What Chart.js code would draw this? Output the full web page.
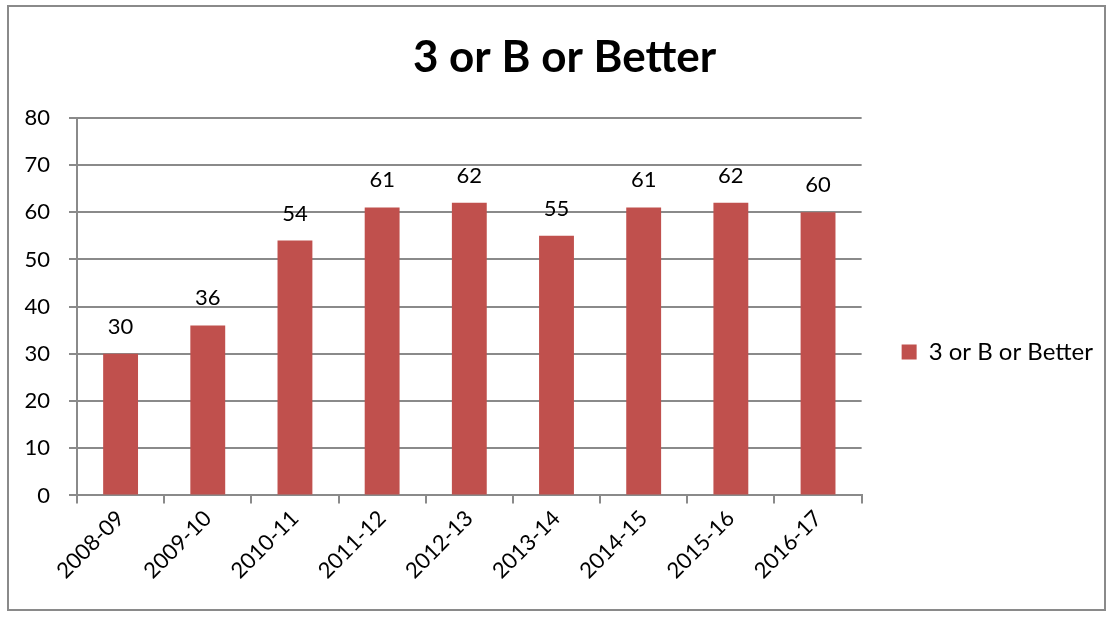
<!DOCTYPE html>
<html>
<head>
<meta charset="utf-8">
<script src="https://cdn.jsdelivr.net/npm/chart.js@4.4.0/dist/chart.umd.min.js"></script>
<style>
  html, body { margin: 0; padding: 0; background: #fff; }
  #wrap { position: relative; width: 1111px; height: 617px; }
  #frame { position: absolute; left: 7px; top: 5px; width: 1099px; height: 606px; border: 2px solid #8a8a8a; box-sizing: border-box; pointer-events: none; }
  canvas { position: absolute; left: 0; top: 0; }
</style>
</head>
<body>
<div id="wrap">
  <canvas id="c" width="1111" height="617"></canvas>
  <div id="frame"></div>
</div>
<script>
const categories = ["2008-09", "2009-10", "2010-11", "2011-12", "2012-13", "2013-14", "2014-15", "2015-16", "2016-17"];
const seriesName = "3 or B or Better";
const values = [30, 36, 54, 61, 62, 55, 61, 62, 60];
const yTicks = [0, 10, 20, 30, 40, 50, 60, 70, 80];
const titleText = "3 or B or Better";

const FONT = "Lato, 'Open Sans', sans-serif";
const GRID = "#8a8a8a";
const BAR = "#c0504d";

const valueLabels = {
  id: 'valueLabels',
  afterDatasetsDraw(chart) {
    const ctx = chart.ctx;
    const meta = chart.getDatasetMeta(0);
    ctx.save();
    ctx.font = "22px " + FONT;
    ctx.fillStyle = "#000";
    ctx.textAlign = "center";
    ctx.textBaseline = "alphabetic";
    meta.data.forEach((bar, i) => {
      ctx.fillText(String(chart.data.datasets[0].data[i]), bar.x, bar.y - 20);
    });
    ctx.restore();
  }
};

// shift the title box so its centre sits where the reference title is
const titleShift = {
  id: 'titleShift',
  afterLayout(chart) {
    if (chart.titleBlock) chart.titleBlock.left += 8;
  }
};

new Chart(document.getElementById('c'), {
  type: 'bar',
  data: {
    labels: categories,
    datasets: [{
      label: seriesName,
      data: values,
      backgroundColor: BAR,
      borderWidth: 0,
      barPercentage: 0.4,
      categoryPercentage: 1.0
    }]
  },
  options: {
    responsive: false,
    animation: false,
    devicePixelRatio: 1,
    layout: { padding: { left: 18, right: 8, top: 0, bottom: 31 } },
    plugins: {
      title: {
        display: true,
        text: titleText,
        color: "#000",
        font: { family: FONT, size: 44, weight: 'bold' },
        padding: { top: 31, bottom: 34 }
      },
      legend: {
        display: true,
        position: 'right',
        maxWidth: 300,
        title: { display: true, text: '', font: { size: 1 }, padding: { top: 117, bottom: 0 } },
        labels: {
          color: "#000",
          font: { family: FONT, size: 24 },
          boxWidth: 15,
          boxHeight: 15,
          padding: 10
        }
      },
      tooltip: { enabled: false }
    },
    scales: {
      x: {
        offset: true,
        grid: { display: true, drawOnChartArea: false, drawTicks: true, tickLength: 8, color: GRID, lineWidth: 2, offset: true },
        border: { display: true, color: GRID, width: 2 },
        ticks: { color: "#000", font: { family: FONT, size: 22 }, maxRotation: 45, minRotation: 45, autoSkip: false, padding: 2 }
      },
      y: {
        min: 0, max: 80,
        afterBuildTicks(scale) { scale.ticks = yTicks.map(v => ({ value: v })); },
        afterFit(scale) { scale.width = 59; },
        grid: { color: GRID, lineWidth: 2, tickLength: 8 },
        border: { display: true, color: GRID, width: 2 },
        ticks: { color: "#000", font: { family: FONT, size: 22 }, padding: 19 }
      },
      gap: {
        position: 'right',
        display: true,
        afterFit(scale) { scale.width = 30; },
        grid: { display: false },
        border: { display: false },
        ticks: { display: false }
      }
    }
  },
  plugins: [valueLabels, titleShift]
});
</script>
</body>
</html>
